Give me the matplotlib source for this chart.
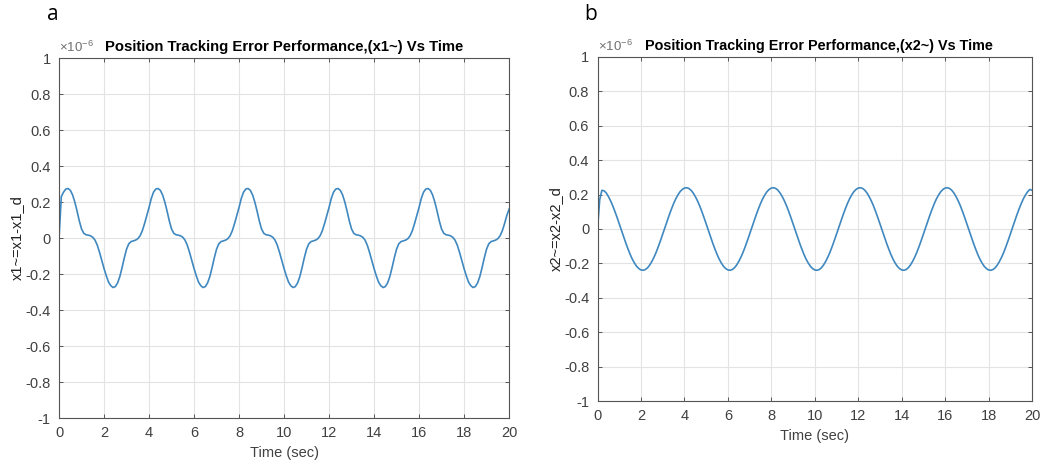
import numpy as np
import matplotlib.pyplot as plt

plt.rcParams['font.family'] = ['Liberation Sans', 'DejaVu Sans']
plt.rcParams['mathtext.fontset'] = 'custom'
plt.rcParams['mathtext.rm'] = 'Liberation Sans'

# time axis, 0.1 s step (201 samples)
time = np.linspace(0, 20, 201)

# position tracking error x1~ (units of 1e-6); one row per second
x1_err = [
    0.0, 0.23, 0.255, 0.272, 0.275, 0.265, 0.24, 0.20, 0.15, 0.095,
    0.05, 0.026, 0.018, 0.016, 0.012, 0.004, -0.012, -0.04, -0.08, -0.125,
    -0.17, -0.21, -0.245, -0.265, -0.275, -0.27, -0.25, -0.215, -0.165, -0.11,
    -0.062, -0.032, -0.02, -0.016, -0.012, -0.004, 0.012, 0.04, 0.08, 0.125,
    0.17, 0.22, 0.255, 0.272, 0.275, 0.265, 0.24, 0.20, 0.15, 0.095,
    0.05, 0.026, 0.018, 0.016, 0.012, 0.004, -0.012, -0.04, -0.08, -0.125,
    -0.17, -0.21, -0.245, -0.265, -0.275, -0.27, -0.25, -0.215, -0.165, -0.11,
    -0.062, -0.032, -0.02, -0.016, -0.012, -0.004, 0.012, 0.04, 0.08, 0.125,
    0.17, 0.22, 0.255, 0.272, 0.275, 0.265, 0.24, 0.20, 0.15, 0.095,
    0.05, 0.026, 0.018, 0.016, 0.012, 0.004, -0.012, -0.04, -0.08, -0.125,
    -0.17, -0.21, -0.245, -0.265, -0.275, -0.27, -0.25, -0.215, -0.165, -0.11,
    -0.062, -0.032, -0.02, -0.016, -0.012, -0.004, 0.012, 0.04, 0.08, 0.125,
    0.17, 0.22, 0.255, 0.272, 0.275, 0.265, 0.24, 0.20, 0.15, 0.095,
    0.05, 0.026, 0.018, 0.016, 0.012, 0.004, -0.012, -0.04, -0.08, -0.125,
    -0.17, -0.21, -0.245, -0.265, -0.275, -0.27, -0.25, -0.215, -0.165, -0.11,
    -0.062, -0.032, -0.02, -0.016, -0.012, -0.004, 0.012, 0.04, 0.08, 0.125,
    0.17, 0.22, 0.255, 0.272, 0.275, 0.265, 0.24, 0.20, 0.15, 0.095,
    0.05, 0.026, 0.018, 0.016, 0.012, 0.004, -0.012, -0.04, -0.08, -0.125,
    -0.17, -0.21, -0.245, -0.265, -0.275, -0.27, -0.25, -0.215, -0.165, -0.11,
    -0.062, -0.032, -0.02, -0.016, -0.012, -0.004, 0.012, 0.04, 0.08, 0.125,
    0.16,
]

# position tracking error x2~ (units of 1e-6); one row per second
x2_err = [
    0.0, 0.17, 0.225, 0.222, 0.21, 0.189, 0.164, 0.135, 0.102, 0.067,
    0.03, -0.007, -0.045, -0.081, -0.115, -0.147, -0.175, -0.198, -0.217, -0.23,
    -0.238, -0.24, -0.236, -0.226, -0.21, -0.189, -0.164, -0.135, -0.102, -0.067,
    -0.03, 0.007, 0.045, 0.081, 0.115, 0.147, 0.175, 0.198, 0.217, 0.23,
    0.238, 0.24, 0.236, 0.226, 0.21, 0.189, 0.164, 0.135, 0.102, 0.067,
    0.03, -0.007, -0.045, -0.081, -0.115, -0.147, -0.175, -0.198, -0.217, -0.23,
    -0.238, -0.24, -0.236, -0.226, -0.21, -0.189, -0.164, -0.135, -0.102, -0.067,
    -0.03, 0.007, 0.045, 0.081, 0.115, 0.147, 0.175, 0.198, 0.217, 0.23,
    0.238, 0.24, 0.236, 0.226, 0.21, 0.189, 0.164, 0.135, 0.102, 0.067,
    0.03, -0.007, -0.045, -0.081, -0.115, -0.147, -0.175, -0.198, -0.217, -0.23,
    -0.238, -0.24, -0.236, -0.226, -0.21, -0.189, -0.164, -0.135, -0.102, -0.067,
    -0.03, 0.007, 0.045, 0.081, 0.115, 0.147, 0.175, 0.198, 0.217, 0.23,
    0.238, 0.24, 0.236, 0.226, 0.21, 0.189, 0.164, 0.135, 0.102, 0.067,
    0.03, -0.007, -0.045, -0.081, -0.115, -0.147, -0.175, -0.198, -0.217, -0.23,
    -0.238, -0.24, -0.236, -0.226, -0.21, -0.189, -0.164, -0.135, -0.102, -0.067,
    -0.03, 0.007, 0.045, 0.081, 0.115, 0.147, 0.175, 0.198, 0.217, 0.23,
    0.238, 0.24, 0.236, 0.226, 0.21, 0.189, 0.164, 0.135, 0.102, 0.067,
    0.03, -0.007, -0.045, -0.081, -0.115, -0.147, -0.175, -0.198, -0.217, -0.23,
    -0.238, -0.24, -0.236, -0.226, -0.21, -0.189, -0.164, -0.135, -0.102, -0.067,
    -0.03, 0.007, 0.045, 0.081, 0.115, 0.147, 0.175, 0.198, 0.217, 0.23,
    0.225,
]

xticks = list(range(0, 21, 2))
yticks = [-1, -0.8, -0.6, -0.4, -0.2, 0, 0.2, 0.4, 0.6, 0.8, 1]
ytick_labels = ['-1', '-0.8', '-0.6', '-0.4', '-0.2', '0', '0.2', '0.4', '0.6', '0.8', '1']

line_color = '#3f88c0'
txt_gray = '#404040'

fig = plt.figure(figsize=(10.47, 4.67), dpi=100)
ax1 = fig.add_axes([0.0564, 0.1049, 0.4298, 0.7709])
ax2 = fig.add_axes([0.5707, 0.1413, 0.4150, 0.7367])

panels = [
    (ax1, x1_err, 'x1~=x1-x1_d', 'Position Tracking Error Performance,(x1~) Vs Time', 'a', 0.050, 0.50, 10.7),
    (ax2, x2_err, 'x2~=x2-x2_d', 'Position Tracking Error Performance,(x2~) Vs Time', 'b', 0.564, 0.51, 10.4),
]

for ax, err, ylab, title, letter, lx, tx, tsize in panels:
    ax.plot(time, err, color=line_color, lw=1.2)
    ax.set_xlim(0, 20)
    ax.set_ylim(-1, 1)
    ax.set_xticks(xticks)
    ax.set_yticks(yticks)
    ax.set_yticklabels(ytick_labels)
    ax.grid(True, color='#e3e3e3', lw=0.8)
    ax.set_axisbelow(True)
    ax.tick_params(direction='in', top=True, right=True, length=3, width=0.7,
                   labelsize=10.5, labelcolor=txt_gray, color='#555555', pad=6)
    for s in ax.spines.values():
        s.set_color('#555555')
        s.set_linewidth(0.8)
    ax.set_xlabel('Time (sec)', fontsize=10.5, color=txt_gray, labelpad=4)
    ax.set_ylabel(ylab, fontsize=10.5, color='#202020', labelpad=1)
    ax.set_title(title, fontsize=tsize, fontweight='bold', pad=5, x=tx)
    ax.text(0.0, 1.008, r'$\times10^{-6}$', transform=ax.transAxes, fontsize=9.5,
            color='#707070', ha='left', va='bottom')
    fig.text(lx, 0.968, letter, fontsize=15, ha='center', va='center',
             family=['Open Sans', 'DejaVu Sans'])

fig.savefig('out.png', dpi=100, facecolor='white')
